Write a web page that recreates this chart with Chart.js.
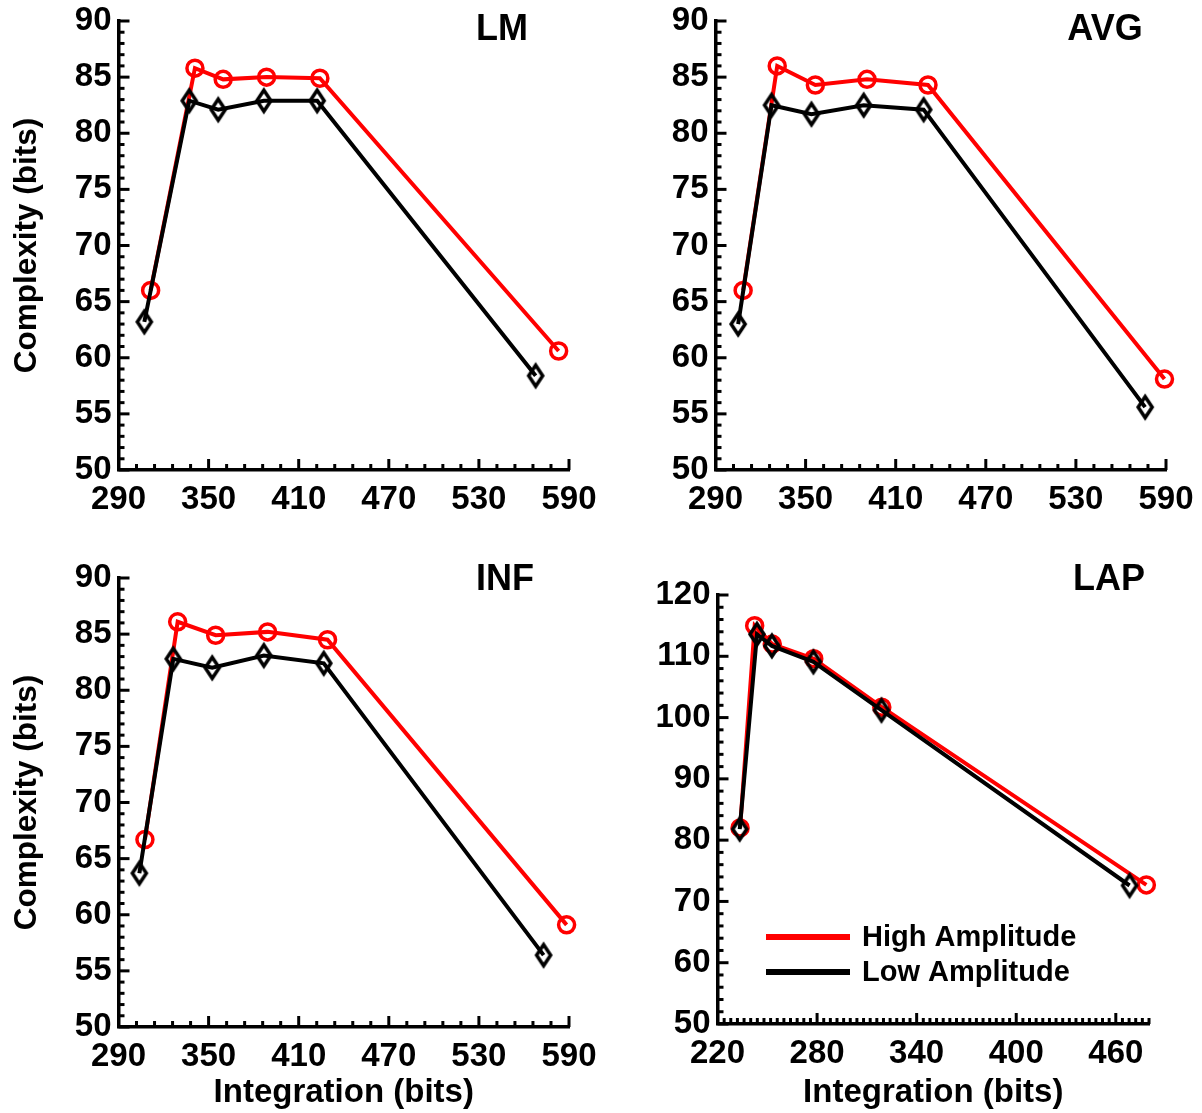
<!DOCTYPE html>
<html><head><meta charset="utf-8">
<script src="https://cdn.jsdelivr.net/npm/chart.js@4.4.1/dist/chart.umd.min.js"></script>
<style>
html,body{margin:0;padding:0;background:#fff;}
body{width:1202px;height:1113px;position:relative;overflow:hidden;}
.p{position:absolute;}
canvas{display:block;}
</style></head><body>
<div class="p" style="left:0;top:0;"><canvas id="c0" width="601" height="556"></canvas></div>
<div class="p" style="left:601px;top:0;"><canvas id="c1" width="601" height="556"></canvas></div>
<div class="p" style="left:0;top:556px;"><canvas id="c2" width="601" height="557"></canvas></div>
<div class="p" style="left:601px;top:556px;"><canvas id="c3" width="601" height="557"></canvas></div>
<script>
// ---- data ----
const panelNames = ['LM', 'AVG', 'INF', 'LAP'];
const seriesNames = ['High Amplitude', 'Low Amplitude'];
const xAxisTitle = 'Integration (bits)';
const yAxisTitle = 'Complexity (bits)';

const lmHighX = [311.4, 340.9, 359.7, 388.6, 424.1, 583.1];
const lmHighY = [66.0, 85.8, 84.8, 85.0, 84.9, 60.6];
const lmLowX = [307.2, 337.1, 356.4, 386.8, 422.3, 567.8];
const lmLowY = [63.2, 82.9, 82.1, 82.9, 82.9, 58.4];

const avgHighX = [308.4, 331.1, 356.5, 390.9, 431.5, 589.0];
const avgHighY = [66.0, 86.0, 84.3, 84.8, 84.3, 58.1];
const avgLowX = [305.1, 327.3, 353.9, 388.7, 428.6, 576.1];
const avgLowY = [63.0, 82.5, 81.7, 82.5, 82.1, 55.6];

const infHighX = [307.6, 329.4, 354.7, 389.3, 429.2, 588.4];
const infHighY = [66.7, 86.1, 84.9, 85.2, 84.5, 59.1];
const infLowX = [303.9, 326.5, 352.4, 386.8, 426.7, 573.1];
const infLowY = [63.7, 82.8, 82.0, 83.1, 82.4, 56.4];

const lapHighX = [233.6, 242.4, 253.0, 278.0, 319.0, 478.4];
const lapHighY = [82.0, 115.0, 112.0, 109.6, 101.7, 72.7];
const lapLowX = [233.4, 243.8, 252.8, 277.8, 318.8, 468.3];
const lapLowY = [81.8, 113.6, 111.7, 109.1, 101.2, 72.6];

const xTicksA = [290, 350, 410, 470, 530, 590];
const xTicksLap = [220, 280, 340, 400, 460];
const yTicksA = [50, 55, 60, 65, 70, 75, 80, 85, 90];
const yTicksLap = [50, 60, 70, 80, 90, 100, 110, 120];

// ---- styling ----
const FONT = '"Liberation Sans", Arial, Helvetica, sans-serif';
const RED = '#ff0000', BLACK = '#000000';

function zip(xs, ys) { return xs.map((x, i) => ({x: x, y: ys[i]})); }

function makeDiamond() {
  const c = document.createElement('canvas');
  c.width = 24; c.height = 30;
  const g = c.getContext('2d');
  g.strokeStyle = BLACK; g.lineWidth = 3.5; g.lineJoin = 'miter';
  g.beginPath();
  g.moveTo(12, 4.5); g.lineTo(19, 15); g.lineTo(12, 25.5); g.lineTo(5, 15); g.closePath();
  g.stroke();
  return c;
}
const diamond = makeDiamond();

const inwardTicks = {
  id: 'inwardTicks',
  afterDraw(chart, args, o) {
    const ctx = chart.ctx;
    const xs = chart.scales.x, ys = chart.scales.y;
    const ca = chart.chartArea;
    ctx.save();
    ctx.strokeStyle = BLACK; ctx.lineWidth = 3; ctx.lineCap = 'butt';
    const nx = Math.round((o.xMax - o.xMin) / o.xMinor);
    for (let k = 0; k <= nx; k++) {
      const v = o.xMin + k * o.xMinor;
      const major = o.xMajors.indexOf(Math.round(v)) >= 0;
      const px = xs.getPixelForValue(v);
      const len = major ? 11 : 6;
      ctx.beginPath(); ctx.moveTo(px, ca.bottom); ctx.lineTo(px, ca.bottom - len); ctx.stroke();
    }
    const ny = Math.round((o.yMax - o.yMin) / o.yMinor);
    for (let k = 0; k <= ny; k++) {
      const v = o.yMin + k * o.yMinor;
      const major = o.yMajors.indexOf(Math.round(v)) >= 0;
      const py = ys.getPixelForValue(v);
      const len = major ? 11 : 6;
      ctx.beginPath(); ctx.moveTo(ca.left, py); ctx.lineTo(ca.left + len, py); ctx.stroke();
    }
    ctx.restore();
  }
};

const panelTitle = {
  id: 'panelTitle',
  afterDraw(chart, args, o) {
    const ctx = chart.ctx;
    ctx.save();
    ctx.fillStyle = BLACK;
    ctx.font = 'bold 36px ' + FONT;
    ctx.textAlign = 'center'; ctx.textBaseline = 'middle';
    ctx.fillText(o.text, o.x, o.y);
    ctx.restore();
  }
};

const innerLegend = {
  id: 'innerLegend',
  afterDraw(chart, args, o) {
    if (!o.show) return;
    const ctx = chart.ctx;
    ctx.save();
    ctx.font = 'bold 29px ' + FONT;
    ctx.textBaseline = 'middle'; ctx.textAlign = 'left';
    o.items.forEach((it, i) => {
      const y = o.y + i * o.dy;
      ctx.strokeStyle = it.color; ctx.lineWidth = 6;
      ctx.beginPath(); ctx.moveTo(o.x1, y); ctx.lineTo(o.x2, y); ctx.stroke();
      ctx.fillStyle = BLACK;
      ctx.fillText(it.label, o.tx, y + 1);
    });
    ctx.restore();
  }
};

const panels = [
  {id: 'c0', name: panelNames[0], hx: lmHighX, hy: lmHighY, lx: lmLowX, ly: lmLowY,
   xMin: 290, xMax: 590, xMinor: 12, xt: xTicksA, yMin: 50, yMax: 90, yMinor: 1, yt: yTicksA,
   L: 118.5, R: 32, T: 21, B: 470, H: 556, xTitle: false, yTitle: true, tx: 502, ty: 30},
  {id: 'c1', name: panelNames[1], hx: avgHighX, hy: avgHighY, lx: avgLowX, ly: avgLowY,
   xMin: 290, xMax: 590, xMinor: 12, xt: xTicksA, yMin: 50, yMax: 90, yMinor: 1, yt: yTicksA,
   L: 114.5, R: 36, T: 21, B: 470, H: 556, xTitle: false, yTitle: false, tx: 504, ty: 30},
  {id: 'c2', name: panelNames[2], hx: infHighX, hy: infHighY, lx: infLowX, ly: infLowY,
   xMin: 290, xMax: 590, xMinor: 12, xt: xTicksA, yMin: 50, yMax: 90, yMinor: 1, yt: yTicksA,
   L: 118.5, R: 32, T: 22, B: 471, H: 557, xTitle: true, yTitle: true, tx: 505, ty: 24},
  {id: 'c3', name: panelNames[3], hx: lapHighX, hy: lapHighY, lx: lapLowX, ly: lapLowY,
   xMin: 220, xMax: 480, xMinor: 4, xt: xTicksLap, yMin: 50, yMax: 120, yMinor: 2, yt: yTicksLap,
   L: 116.5, R: 53, T: 39, B: 468, H: 557, xTitle: true, yTitle: false, tx: 508, ty: 24, legend: true}
];

panels.forEach(p => {
  const tickFont = {family: FONT, size: 33, weight: 'bold'};
  new Chart(document.getElementById(p.id), {
    type: 'scatter',
    data: {
      datasets: [
        {label: seriesNames[1], data: zip(p.lx, p.ly), showLine: true, borderColor: BLACK, borderWidth: 4,
         pointStyle: diamond, pointRadius: 9, pointBorderColor: BLACK, pointBackgroundColor: 'rgba(0,0,0,0)',
         order: 0, tension: 0, clip: false},
        {label: seriesNames[0], data: zip(p.hx, p.hy), showLine: true, borderColor: RED, borderWidth: 4,
         pointStyle: 'circle', pointRadius: 8, pointBorderWidth: 3.5, pointBorderColor: RED,
         pointBackgroundColor: 'rgba(0,0,0,0)', order: 1, tension: 0, clip: false}
      ]
    },
    options: {
      responsive: false, animation: false, devicePixelRatio: 1,
      layout: {padding: {top: p.T, right: p.R, left: 0, bottom: 0}},
      plugins: {
        legend: {display: false}, tooltip: {enabled: false},
        inwardTicks: {xMin: p.xMin, xMax: p.xMax, xMinor: p.xMinor, xMajors: p.xt,
                      yMin: p.yMin, yMax: p.yMax, yMinor: p.yMinor, yMajors: p.yt},
        panelTitle: {text: p.name, x: p.tx, y: p.ty},
        innerLegend: {show: !!p.legend, x1: 165, x2: 249, tx: 261, y: 381, dy: 35,
                      items: [{label: seriesNames[0], color: RED}, {label: seriesNames[1], color: BLACK}]}
      },
      scales: {
        x: {
          type: 'linear', min: p.xMin, max: p.xMax,
          afterBuildTicks: s => { s.ticks = p.xt.map(v => ({value: v})); },
          afterFit: s => { s.height = p.H - p.B; s.paddingLeft = 0; s.paddingRight = 0; },
          grid: {display: false, drawTicks: false},
          border: {display: true, color: BLACK, width: 3.5},
          ticks: {font: tickFont, color: BLACK, padding: 10, maxRotation: 0, autoSkip: false},
          title: {display: p.xTitle, text: xAxisTitle, color: BLACK,
                  font: {family: FONT, size: 33, weight: 'bold'}, padding: {top: -3, bottom: 0}}
        },
        y: {
          type: 'linear', min: p.yMin, max: p.yMax,
          afterBuildTicks: s => { s.ticks = p.yt.map(v => ({value: v})); },
          afterFit: s => { s.width = p.L; s.paddingTop = 0; s.paddingBottom = 0; },
          grid: {display: false, drawTicks: false},
          border: {display: true, color: BLACK, width: 3.5},
          ticks: {font: tickFont, color: BLACK, padding: 7, autoSkip: false},
          title: {display: p.yTitle, text: yAxisTitle, color: BLACK,
                  font: {family: FONT, size: 31.5, weight: 'bold'}, padding: {top: 8, bottom: 0}}
        }
      }
    },
    plugins: [inwardTicks, panelTitle, innerLegend]
  });
});
</script>
</body></html>
